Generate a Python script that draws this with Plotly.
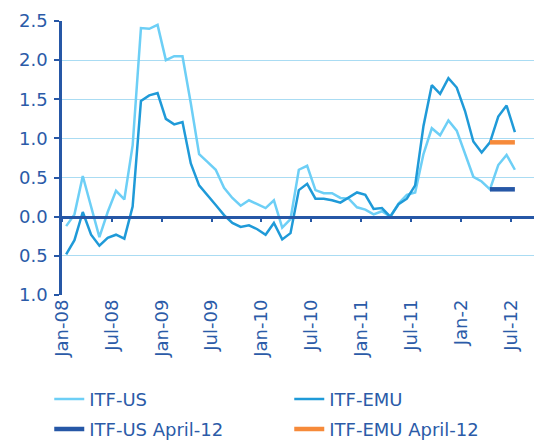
import plotly.graph_objects as go

months = ["Jan-08","Feb-08","Mar-08","Apr-08","May-08","Jun-08","Jul-08","Aug-08","Sep-08","Oct-08","Nov-08","Dec-08",
          "Jan-09","Feb-09","Mar-09","Apr-09","May-09","Jun-09","Jul-09","Aug-09","Sep-09","Oct-09","Nov-09","Dec-09",
          "Jan-10","Feb-10","Mar-10","Apr-10","May-10","Jun-10","Jul-10","Aug-10","Sep-10","Oct-10","Nov-10","Dec-10",
          "Jan-11","Feb-11","Mar-11","Apr-11","May-11","Jun-11","Jul-11","Aug-11","Sep-11","Oct-11","Nov-11","Dec-11",
          "Jan-12","Feb-12","Mar-12","Apr-12","May-12","Jun-12","Jul-12"]

itf_us = [-0.12, 0.03, 0.52, 0.14, -0.26, 0.06, 0.33, 0.22, 0.91, 2.41, 2.40, 2.45,
          2.00, 2.05, 2.05, 1.45, 0.80, 0.70, 0.60, 0.37, 0.24, 0.14, 0.21, 0.16,
          0.11, 0.21, -0.14, -0.03, 0.60, 0.65, 0.34, 0.30, 0.30, 0.24, 0.23, 0.12,
          0.09, 0.03, 0.07, 0.00, 0.17, 0.28, 0.31, 0.80, 1.13, 1.04, 1.23, 1.10,
          0.81, 0.51, 0.45, 0.35, 0.66, 0.79, 0.60]

itf_emu = [-0.48, -0.30, 0.06, -0.23, -0.37, -0.27, -0.23, -0.28, 0.13, 1.48, 1.55, 1.58,
           1.25, 1.18, 1.21, 0.68, 0.40, 0.28, 0.15, 0.02, -0.08, -0.13, -0.11, -0.16,
           -0.23, -0.08, -0.29, -0.21, 0.34, 0.42, 0.23, 0.23, 0.21, 0.18, 0.25, 0.31,
           0.28, 0.10, 0.11, 0.00, 0.16, 0.23, 0.40, 1.16, 1.68, 1.57, 1.77, 1.65,
           1.35, 0.96, 0.82, 0.95, 1.28, 1.42, 1.08]

april_months = ["Apr-12", "May-12", "Jun-12", "Jul-12"]
itf_us_april = [0.35, 0.35, 0.35, 0.35]
itf_emu_april = [0.95, 0.95, 0.95, 0.95]

tick_labels = ["Jan-08", "Jul-08", "Jan-09", "Jul-09", "Jan-10", "Jul-10", "Jan-11", "Jul-11", "Jan-2", "Jul-12"]
y_tick_vals = [2.5, 2.0, 1.5, 1.0, 0.5, 0.0, -0.5, -1.0]
y_tick_text = ["2.5", "2.0", "1.5", "1.0", "0.5", "0.0", "0.5", "1.0"]

# category centre positions (points sit between tick marks)
pos = {m: i + 0.5 for i, m in enumerate(months)}
x_all = [pos[m] for m in months]
x_apr = [pos[m] for m in april_months]
tick_vals = [i for i in range(0, len(months), 6)]

NAVY = "#2657a6"
TEXT = "#2b5ba8"
LIGHT = "#6dcff6"
MID = "#1f9ad8"
ORANGE = "#f68a3a"
GRID = "#aadcf3"
FONT = "DejaVu Sans"

fig = go.Figure()
fig.add_trace(go.Scatter(x=x_all, y=itf_us, mode="lines", name="ITF-US",
                         line=dict(color=LIGHT, width=2.5), legend="legend"))
fig.add_trace(go.Scatter(x=x_all, y=itf_emu, mode="lines", name="ITF-EMU",
                         line=dict(color=MID, width=2.5), legend="legend"))
fig.add_trace(go.Scatter(x=x_apr, y=itf_us_april, mode="lines", name="ITF-US April-12",
                         xaxis="x2", line=dict(color=NAVY, width=4.5), legend="legend2"))
fig.add_trace(go.Scatter(x=x_apr, y=itf_emu_april, mode="lines", name="ITF-EMU April-12",
                         xaxis="x2", line=dict(color=ORANGE, width=4.5), legend="legend2"))

legend_common = dict(orientation="h", x=-0.027, xanchor="left", yanchor="top",
                     entrywidth=195, entrywidthmode="pixels", itemwidth=30,
                     font=dict(size=18, color=TEXT, family=FONT),
                     bgcolor="rgba(0,0,0,0)")

y_min, y_max = -1.0, 2.5
fig.update_layout(
    width=534, height=442,
    margin=dict(l=62, r=0, t=21, b=147, autoexpand=False),
    paper_bgcolor="white", plot_bgcolor="white",
    font=dict(family=FONT, color=TEXT, size=18),
    xaxis=dict(range=[0, 56.8], tickvals=tick_vals, ticktext=tick_labels,
               tickangle=-90, showgrid=False, zeroline=False, showline=False,
               ticks="", tickfont=dict(size=18, color=TEXT, family=FONT)),
    xaxis2=dict(matches="x", overlaying="x", anchor="free",
                position=(0 - y_min) / (y_max - y_min),
                tickvals=tick_vals, showticklabels=False, showgrid=False,
                zeroline=False, showline=True, linecolor=NAVY, linewidth=2.5,
                ticks="outside", ticklen=4, tickwidth=2, tickcolor=NAVY),
    yaxis=dict(range=[y_min, y_max], tickvals=y_tick_vals, ticktext=y_tick_text,
               showgrid=True, gridcolor=GRID, gridwidth=1, zeroline=False,
               showline=True, linecolor=NAVY, linewidth=2.5,
               ticks="outside", ticklen=5, tickwidth=2, tickcolor=NAVY,
               ticklabelstandoff=3,
               tickfont=dict(size=18, color=TEXT, family=FONT)),
    showlegend=True,
    legend=dict(y=-0.313, **legend_common),
    legend2=dict(y=-0.4225, **legend_common),
)

fig.write_html("out.html", config={"displayModeBar": False},
               post_script="document.body.style.margin='0px';")
